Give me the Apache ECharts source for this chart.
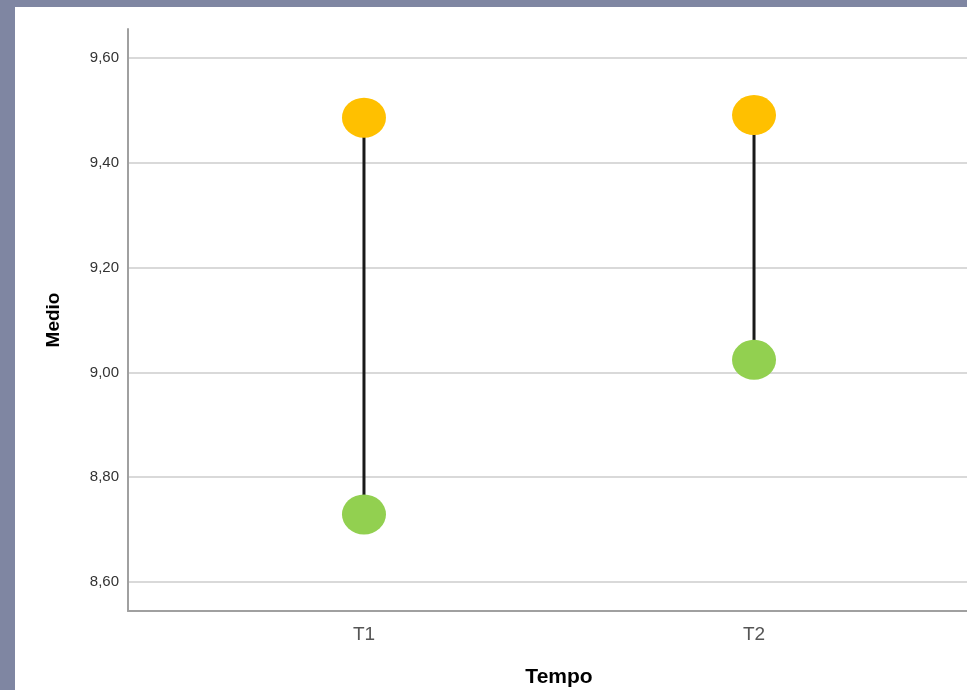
<!DOCTYPE html>
<html>
<head>
<meta charset="utf-8">
<script src="https://cdn.jsdelivr.net/npm/echarts@6/dist/echarts.min.js"></script>
<style>
  html, body { margin: 0; padding: 0; width: 967px; height: 690px; background: #7f86a2; overflow: hidden; }
  #chart { position: absolute; left: 15px; top: 7px; width: 975px; height: 683px; background: #ffffff; }
</style>
</head>
<body>
<div id="chart"></div>
<script>
const categories = ['T1', 'T2'];
const upperValues = [9.486, 9.491];
const lowerValues = [8.729, 9.024];
const yTicks = [8.6, 8.8, 9.0, 9.2, 9.4, 9.6];
const xName = 'Tempo';
const yName = 'Medio';

const chart = echarts.init(document.getElementById('chart'));
const fmt = v => v.toFixed(2).replace('.', ',');
const xPos = categories.map((c, i) => i + 1);

const lineSeries = categories.map((c, i) => ({
  type: 'line',
  data: [[xPos[i], upperValues[i]], [xPos[i], lowerValues[i]]],
  symbol: 'none',
  lineStyle: { color: '#1a1a1a', width: 3 },
  z: 2,
  silent: true
}));

chart.setOption({
  animation: false,
  grid: { left: 113, top: 22, bottom: 79, right: 0, containLabel: false, outerBoundsMode: 'none' },
  xAxis: {
    type: 'value',
    min: 0.395,
    max: 2.605,
    name: xName,
    nameLocation: 'middle',
    nameGap: 56,
    nameTextStyle: { fontFamily: 'Liberation Sans', fontWeight: 'bold', fontSize: 21, color: '#000' },
    axisLine: { show: true, lineStyle: { color: '#a0a0a0', width: 2 } },
    axisTick: { show: false },
    splitLine: { show: false },
    axisLabel: {
      customValues: xPos,
      formatter: v => categories[Math.round(v) - 1] || '',
      fontFamily: 'Liberation Sans',
      fontSize: 19,
      color: '#555',
      margin: 14
    }
  },
  yAxis: {
    type: 'value',
    min: 8.5447,
    max: 9.6553,
    name: yName,
    nameLocation: 'middle',
    nameGap: 65,
    nameRotate: 90,
    nameTextStyle: { fontFamily: 'Liberation Sans', fontWeight: 'bold', fontSize: 19, color: '#000' },
    axisLine: { show: true, lineStyle: { color: '#a0a0a0', width: 2 } },
    axisTick: { show: false, customValues: yTicks },
    splitLine: { show: true, lineStyle: { color: '#d9d9d9', width: 2 } },
    axisLabel: {
      customValues: yTicks,
      formatter: fmt,
      fontFamily: 'Liberation Sans',
      fontSize: 15,
      color: '#333',
      margin: 9
    }
  },
  series: [
    ...lineSeries,
    {
      type: 'scatter',
      data: categories.map((c, i) => [xPos[i], upperValues[i]]),
      symbol: 'circle',
      symbolSize: [44, 40],
      itemStyle: { color: '#ffc000', opacity: 1 },
      z: 5
    },
    {
      type: 'scatter',
      data: categories.map((c, i) => [xPos[i], lowerValues[i]]),
      symbol: 'circle',
      symbolSize: [44, 40],
      itemStyle: { color: '#92d050', opacity: 1 },
      z: 5
    }
  ]
});
</script>
</body>
</html>
